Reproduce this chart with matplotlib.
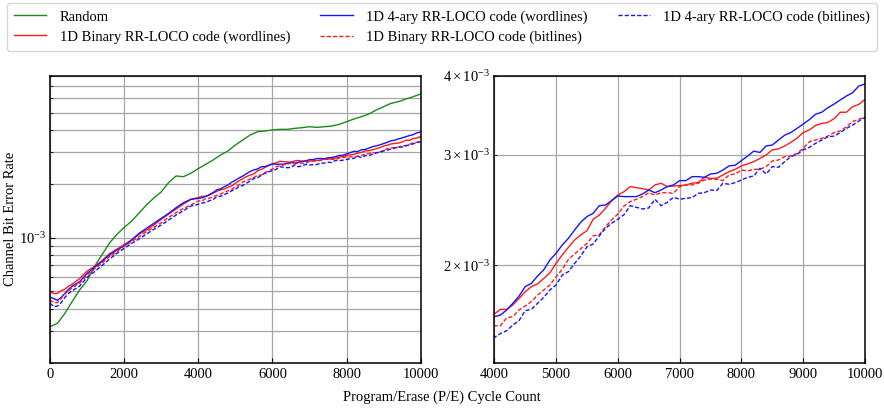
import matplotlib
matplotlib.use("Agg")
import matplotlib.pyplot as plt
import numpy as np

plt.rcParams['font.family'] = ['Liberation Serif', 'DejaVu Serif']
plt.rcParams['mathtext.fontset'] = 'stix'
plt.rcParams['font.size'] = 10.5

# ---------------- data (bit error rates in units of 1e-3) ----------------
cycles_random = list(range(0, 10001, 200))
random_ber = [0.318, 0.332, 0.377, 0.440, 0.510, 0.575, 0.690, 0.800, 0.930, 1.040,
              1.140, 1.235, 1.370, 1.520, 1.665, 1.800, 2.030, 2.210, 2.190, 2.290,
              2.430, 2.567, 2.714, 2.894, 3.047, 3.292, 3.510, 3.744, 3.908, 3.942,
              4.000, 4.027, 4.027, 4.079, 4.114, 4.167, 4.131, 4.167, 4.203, 4.295,
              4.445, 4.600, 4.740, 4.906, 5.165, 5.391, 5.627, 5.750, 5.951, 6.132,
              6.346]

cycles_code = [0, 100, 200, 300, 400, 500, 600, 800] + list(range(1000, 4000, 200)) \
    + list(range(4000, 10001, 100))

binary_wl = [0.500, 0.487, 0.488, 0.505, 0.515, 0.535, 0.550, 0.590, 0.650, 0.690,
             0.742, 0.812, 0.860, 0.914, 0.969, 1.045, 1.102, 1.176, 1.265, 1.354,
             1.444, 1.540, 1.636,
             1.673, 1.702, 1.702, 1.730, 1.771, 1.815, 1.850, 1.868, 1.906, 1.946,
             2.014, 2.077, 2.136, 2.194, 2.235, 2.270, 2.368, 2.404, 2.464, 2.535,
             2.587, 2.619, 2.668, 2.658, 2.648, 2.635, 2.684, 2.701, 2.668, 2.674,
             2.678, 2.684, 2.701, 2.707, 2.760, 2.750, 2.750, 2.784, 2.818, 2.842,
             2.878, 2.899, 2.923, 2.959, 2.995, 3.052, 3.063, 3.096, 3.137, 3.186,
             3.252, 3.283, 3.338, 3.362, 3.374, 3.422, 3.503, 3.503, 3.575, 3.605,
             3.671]

quad_wl = [0.465, 0.457, 0.446, 0.463, 0.488, 0.514, 0.536, 0.567, 0.631, 0.682,
           0.735, 0.799, 0.852, 0.900, 0.969, 1.056, 1.126, 1.201, 1.281, 1.366,
           1.469, 1.567, 1.636,
           1.657, 1.667, 1.698, 1.740, 1.786, 1.850, 1.872, 1.923, 1.967, 2.039,
           2.090, 2.154, 2.208, 2.276, 2.342, 2.391, 2.419, 2.488, 2.494, 2.535,
           2.578, 2.572, 2.572, 2.572, 2.597, 2.635, 2.609, 2.635, 2.668, 2.684,
           2.727, 2.727, 2.767, 2.767, 2.760, 2.794, 2.801, 2.835, 2.878, 2.885,
           2.934, 2.984, 3.038, 3.023, 3.096, 3.107, 3.164, 3.221, 3.252, 3.302,
           3.354, 3.410, 3.477, 3.503, 3.562, 3.609, 3.664, 3.718, 3.763, 3.856,
           3.884]

binary_bl = [0.450, 0.433, 0.433, 0.457, 0.484, 0.505, 0.525, 0.555, 0.618, 0.668,
             0.718, 0.782, 0.834, 0.897, 0.949, 1.012, 1.079, 1.141, 1.211, 1.297,
             1.378, 1.457, 1.521,
             1.603, 1.603, 1.650, 1.657, 1.698, 1.723, 1.751, 1.793, 1.827, 1.861,
             1.918, 1.971, 2.044, 2.085, 2.125, 2.167, 2.228, 2.237, 2.304, 2.362,
             2.413, 2.485, 2.525, 2.547, 2.572, 2.609, 2.587, 2.609, 2.609, 2.603,
             2.668, 2.684, 2.684, 2.701, 2.733, 2.743, 2.740, 2.727, 2.784, 2.794,
             2.835, 2.825, 2.842, 2.842, 2.871, 2.930, 2.941, 2.977, 2.984, 3.013,
             3.070, 3.144, 3.164, 3.183, 3.210, 3.252, 3.271, 3.322, 3.385, 3.414,
             3.439]

quad_bl = [0.431, 0.412, 0.414, 0.433, 0.463, 0.488, 0.505, 0.536, 0.600, 0.645,
           0.697, 0.756, 0.816, 0.871, 0.928, 0.982, 1.047, 1.112, 1.176, 1.254,
           1.337, 1.414, 1.501,
           1.535, 1.558, 1.574, 1.607, 1.633, 1.694, 1.702, 1.740, 1.778, 1.827,
           1.861, 1.930, 1.954, 2.014, 2.070, 2.141, 2.162, 2.228, 2.290, 2.333,
           2.368, 2.407, 2.488, 2.473, 2.458, 2.467, 2.547, 2.488, 2.519, 2.566,
           2.547, 2.556, 2.562, 2.603, 2.609, 2.635, 2.629, 2.701, 2.691, 2.707,
           2.733, 2.760, 2.774, 2.853, 2.794, 2.871, 2.863, 2.923, 2.977, 3.002,
           3.052, 3.081, 3.126, 3.164, 3.202, 3.210, 3.252, 3.302, 3.342, 3.392,
           3.439]

labels = ["Random",
          "1D Binary RR-LOCO code (wordlines)",
          "1D 4-ary RR-LOCO code (wordlines)",
          "1D Binary RR-LOCO code (bitlines)",
          "1D 4-ary RR-LOCO code (bitlines)"]

scale = 1e-3
GREEN = '#1a8a1a'
RED = '#ff1a1a'
BLUE = '#1414ff'

fig = plt.figure(figsize=(8.84, 4.08), dpi=100)
W, H = 884.0, 408.0
ax1 = fig.add_axes([50 / W, 1 - 362.7 / H, 370.7 / W, 286.7 / H])
ax2 = fig.add_axes([494.3 / W, 1 - 362.7 / H, 370.7 / W, 286.7 / H])

xc = np.array(cycles_code)
series = [
    (np.array(binary_wl) * scale, RED, '-'),
    (np.array(quad_wl) * scale, BLUE, '-'),
    (np.array(binary_bl) * scale, RED, '--'),
    (np.array(quad_bl) * scale, BLUE, '--'),
]

handles = []
h, = ax1.plot(cycles_random, np.array(random_ber) * scale, color=GREEN, lw=1.0)
handles.append(h)
for ax in (ax1, ax2):
    for y, c, ls in series:
        line, = ax.plot(xc, y, color=c, ls=ls, lw=1.0,
                        dashes=(3, 1.5) if ls == '--' else (None, None))
        if ax is ax1:
            handles.append(line)

for ax in (ax1, ax2):
    ax.set_yscale('log')
    ax.grid(True, which='both', color='#a6a6a6', linewidth=0.9)
    ax.set_axisbelow(True)
    ax.tick_params(which='both', direction='in', labelsize=10.5)
    ax.tick_params(which='major', length=3.5)
    ax.tick_params(which='minor', length=2)
    for s in ax.spines.values():
        s.set_linewidth(1.1)
        s.set_color('black')

ax1.tick_params(axis='y', which='both', pad=2.5)

ax1.set_xlim(0, 10000)
ax1.set_ylim(2e-4, 8e-3)
ax1.set_xticks([0, 2000, 4000, 6000, 8000, 10000])

ax2.set_xlim(4000, 10000)
ax2.set_ylim(1.4e-3, 4e-3)
ax2.set_xticks(list(range(4000, 10001, 1000)))

ax1.set_ylabel("Channel Bit Error Rate", fontsize=10.5)
ax1.yaxis.set_label_coords((17.5 - 50) / 370.7, 0.5)

fig.text(0.5, 1 - 397 / H, "Program/Erase (P/E) Cycle Count", ha='center', va='center',
         fontsize=10.5)

# legend order: column-major with 3 columns
leg_handles = [handles[0], handles[1], handles[2], handles[3], handles[4]]
fig.legend(leg_handles, labels, ncol=3, mode='expand', loc='upper left',
           bbox_to_anchor=(7 / W, 1 - 3 / H, 870 / W, 0), borderaxespad=0,
           fontsize=10.5, handlelength=2.2, handletextpad=0.9, labelspacing=0.45,
           borderpad=0.5, frameon=True, fancybox=True, edgecolor='#cccccc')

fig.savefig("out.png", dpi=100)
